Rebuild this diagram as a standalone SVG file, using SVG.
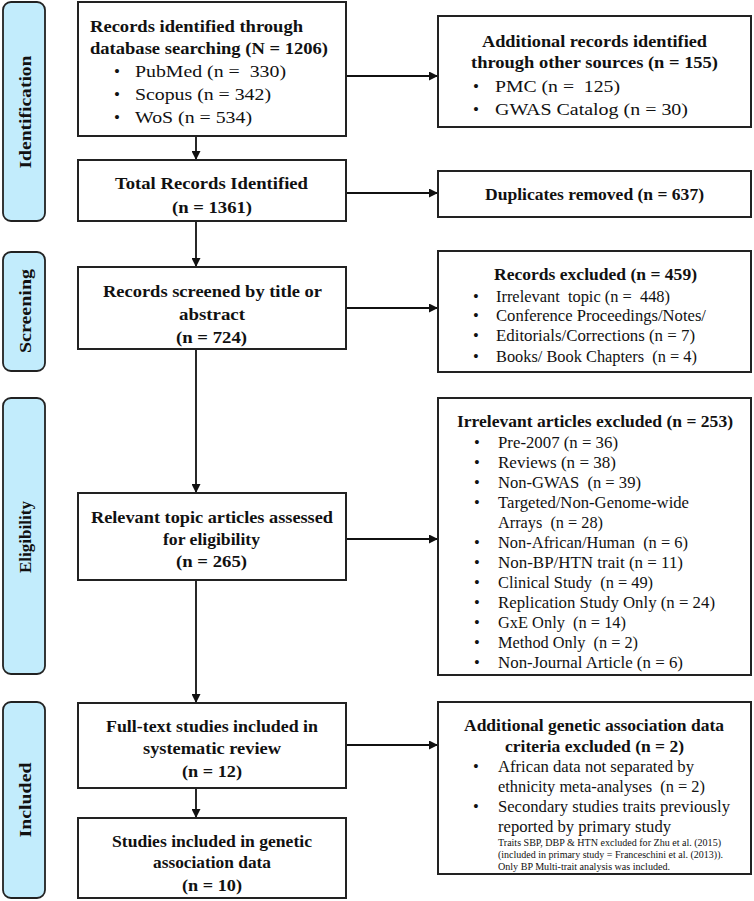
<svg xmlns="http://www.w3.org/2000/svg" width="754" height="901" viewBox="0 0 754 901">
<style>
text{font-family:"Liberation Serif","Times New Roman",serif;fill:#111}
.b{font-weight:bold;font-size:17px}
.r{font-size:17px}
.s{font-size:16.5px}
.box{fill:#fff;stroke:#222;stroke-width:2}
.lab{fill:#C2ECFC;stroke:#222;stroke-width:1.8}
.side{font-weight:bold;font-size:17px;text-anchor:middle;dominant-baseline:central}
.tiny{font-size:10px}
.con line{stroke:#111;stroke-width:1.8;marker-end:url(#ah)}
</style>
<defs>
<marker id="ah" markerUnits="userSpaceOnUse" markerWidth="9" markerHeight="9" refX="9" refY="4.5" orient="auto">
<path d="M0,0 L9,4.5 L0,9 z" fill="#111"/>
</marker>
</defs>
<rect width="754" height="901" fill="#fff"/>
<g id="phases">
<g id="lab-identification"><rect class="lab" x="3" y="2" width="42" height="219" rx="8"/><text class="side" transform="translate(25,112) rotate(-90)" textLength="113" lengthAdjust="spacingAndGlyphs">Identification</text></g>
<g id="lab-screening"><rect class="lab" x="3" y="252" width="42" height="119" rx="8"/><text class="side" transform="translate(25,311) rotate(-90)" textLength="84" lengthAdjust="spacingAndGlyphs">Screening</text></g>
<g id="lab-eligibility"><rect class="lab" x="3" y="398" width="42" height="276" rx="8"/><text class="side" transform="translate(25,537) rotate(-90)" textLength="72" lengthAdjust="spacingAndGlyphs">Eligibility</text></g>
<g id="lab-included"><rect class="lab" x="3" y="702" width="42" height="196" rx="8"/><text class="side" transform="translate(25,800) rotate(-90)" textLength="75" lengthAdjust="spacingAndGlyphs">Included</text></g>
</g>
<g class="con" id="connectors">
<line x1="196" y1="136" x2="196" y2="160"/>
<line x1="196" y1="221" x2="196" y2="267"/>
<line x1="196" y1="349" x2="196" y2="493"/>
<line x1="196" y1="580" x2="196" y2="703"/>
<line x1="196" y1="788" x2="196" y2="818"/>
<line x1="346" y1="76" x2="438" y2="76"/>
<line x1="346" y1="193" x2="438" y2="193"/>
<line x1="346" y1="308" x2="438" y2="308"/>
<line x1="346" y1="539" x2="438" y2="539"/>
<line x1="346" y1="745" x2="438" y2="745"/>
</g>
<g id="n-db">
<rect class="box" x="78" y="2" width="268" height="134"/>
<text class="b" x="90" y="32" textLength="213" lengthAdjust="spacingAndGlyphs">Records identified through</text>
<text class="b" x="90" y="54" textLength="238" lengthAdjust="spacingAndGlyphs">database searching (N = 1206)</text>
<text class="r" x="114" y="77">•</text><text class="r" x="135" y="77" textLength="151" lengthAdjust="spacingAndGlyphs" xml:space="preserve">PubMed (n =  330)</text>
<text class="r" x="114" y="100">•</text><text class="r" x="135" y="100" textLength="136" lengthAdjust="spacingAndGlyphs">Scopus (n = 342)</text>
<text class="r" x="114" y="123">•</text><text class="r" x="135" y="123" textLength="117" lengthAdjust="spacingAndGlyphs">WoS (n = 534)</text>
</g>
<g id="n-other">
<rect class="box" x="438" y="16" width="313" height="111"/>
<text class="b" x="482" y="47" textLength="225" lengthAdjust="spacingAndGlyphs">Additional records identified</text>
<text class="b" x="471" y="68" textLength="247" lengthAdjust="spacingAndGlyphs">through other sources (n = 155)</text>
<text class="r" x="473" y="92">•</text><text class="r" x="495" y="92" textLength="125" lengthAdjust="spacingAndGlyphs" xml:space="preserve">PMC (n =  125)</text>
<text class="r" x="473" y="115">•</text><text class="r" x="495" y="115" textLength="193" lengthAdjust="spacingAndGlyphs">GWAS Catalog (n = 30)</text>
</g>
<g id="n-total">
<rect class="box" x="78" y="160" width="268" height="61"/>
<text class="b" x="115" y="189" textLength="193" lengthAdjust="spacingAndGlyphs">Total Records Identified</text>
<text class="b" x="172" y="213" textLength="80" lengthAdjust="spacingAndGlyphs">(n = 1361)</text>
</g>
<g id="n-dup">
<rect class="box" x="438" y="171" width="313" height="46"/>
<text class="b" x="485" y="200" textLength="219" lengthAdjust="spacingAndGlyphs">Duplicates removed (n = 637)</text>
</g>
<g id="n-screened">
<rect class="box" x="78" y="267" width="268" height="82"/>
<text class="b" x="103" y="297" textLength="219" lengthAdjust="spacingAndGlyphs">Records screened by title or</text>
<text class="b" x="179" y="320" textLength="66" lengthAdjust="spacingAndGlyphs">abstract</text>
<text class="b" x="176" y="343" textLength="71" lengthAdjust="spacingAndGlyphs">(n = 724)</text>
</g>
<g id="n-excluded">
<rect class="box" x="438" y="251" width="313" height="121"/>
<text class="b" x="494" y="280" textLength="203" lengthAdjust="spacingAndGlyphs">Records excluded (n = 459)</text>
<text class="s" x="473" y="302">•</text><text class="s" x="496" y="302" textLength="174" lengthAdjust="spacingAndGlyphs" xml:space="preserve">Irrelevant  topic (n =  448)</text>
<text class="s" x="473" y="321">•</text><text class="s" x="496" y="321" textLength="210" lengthAdjust="spacingAndGlyphs">Conference Proceedings/Notes/</text>
<text class="s" x="473" y="341">•</text><text class="s" x="496" y="341" textLength="199" lengthAdjust="spacingAndGlyphs">Editorials/Corrections (n = 7)</text>
<text class="s" x="473" y="362">•</text><text class="s" x="496" y="362" textLength="201" lengthAdjust="spacingAndGlyphs" xml:space="preserve">Books/ Book Chapters  (n = 4)</text>
</g>
<g id="n-relevant">
<rect class="box" x="78" y="493" width="268" height="87"/>
<text class="b" x="91" y="523" textLength="242" lengthAdjust="spacingAndGlyphs">Relevant topic articles assessed</text>
<text class="b" x="163" y="545" textLength="97" lengthAdjust="spacingAndGlyphs">for eligibility</text>
<text class="b" x="176" y="567" textLength="71" lengthAdjust="spacingAndGlyphs">(n = 265)</text>
</g>
<g id="n-irrelevant">
<rect class="box" x="438" y="398" width="313" height="277"/>
<text class="b" x="457" y="427" textLength="276" lengthAdjust="spacingAndGlyphs">Irrelevant articles excluded (n = 253)</text>
<text class="s" x="474" y="448">•</text><text class="s" x="498" y="448" textLength="120" lengthAdjust="spacingAndGlyphs">Pre-2007 (n = 36)</text>
<text class="s" x="474" y="468">•</text><text class="s" x="498" y="468" textLength="118" lengthAdjust="spacingAndGlyphs">Reviews (n = 38)</text>
<text class="s" x="474" y="488">•</text><text class="s" x="498" y="488" textLength="143" lengthAdjust="spacingAndGlyphs" xml:space="preserve">Non-GWAS  (n = 39)</text>
<text class="s" x="474" y="508">•</text><text class="s" x="498" y="508" textLength="191" lengthAdjust="spacingAndGlyphs">Targeted/Non-Genome-wide</text>
<text class="s" x="498" y="528" textLength="105" lengthAdjust="spacingAndGlyphs" xml:space="preserve">Arrays  (n = 28)</text>
<text class="s" x="474" y="548">•</text><text class="s" x="498" y="548" textLength="190" lengthAdjust="spacingAndGlyphs" xml:space="preserve">Non-African/Human  (n = 6)</text>
<text class="s" x="474" y="568">•</text><text class="s" x="498" y="568" textLength="185" lengthAdjust="spacingAndGlyphs">Non-BP/HTN trait (n = 11)</text>
<text class="s" x="474" y="588">•</text><text class="s" x="498" y="588" textLength="155" lengthAdjust="spacingAndGlyphs" xml:space="preserve">Clinical Study  (n = 49)</text>
<text class="s" x="474" y="608">•</text><text class="s" x="498" y="608" textLength="217" lengthAdjust="spacingAndGlyphs">Replication Study Only (n = 24)</text>
<text class="s" x="474" y="628">•</text><text class="s" x="498" y="628" textLength="128" lengthAdjust="spacingAndGlyphs" xml:space="preserve">GxE Only  (n = 14)</text>
<text class="s" x="474" y="648">•</text><text class="s" x="498" y="648" textLength="140" lengthAdjust="spacingAndGlyphs" xml:space="preserve">Method Only  (n = 2)</text>
<text class="s" x="474" y="668">•</text><text class="s" x="498" y="668" textLength="185" lengthAdjust="spacingAndGlyphs">Non-Journal Article (n = 6)</text>
</g>
<g id="n-fulltext">
<rect class="box" x="78" y="703" width="268" height="85"/>
<text class="b" x="106" y="732" textLength="212" lengthAdjust="spacingAndGlyphs">Full-text studies included in</text>
<text class="b" x="143" y="754" textLength="138" lengthAdjust="spacingAndGlyphs">systematic review</text>
<text class="b" x="182" y="777" textLength="60" lengthAdjust="spacingAndGlyphs">(n = 12)</text>
</g>
<g id="n-additional">
<rect class="box" x="438" y="702" width="313" height="172"/>
<text class="b" x="464" y="731" textLength="260" lengthAdjust="spacingAndGlyphs">Additional genetic association data</text>
<text class="b" x="505" y="752" textLength="179" lengthAdjust="spacingAndGlyphs">criteria excluded (n = 2)</text>
<text class="s" x="473" y="772">•</text><text class="s" x="498" y="772" textLength="196" lengthAdjust="spacingAndGlyphs">African data not separated by</text>
<text class="s" x="498" y="792" textLength="207" lengthAdjust="spacingAndGlyphs" xml:space="preserve">ethnicity meta-analyses  (n = 2)</text>
<text class="s" x="473" y="812">•</text><text class="s" x="498" y="812" textLength="232" lengthAdjust="spacingAndGlyphs">Secondary studies traits previously</text>
<text class="s" x="498" y="832" textLength="173" lengthAdjust="spacingAndGlyphs">reported by primary study</text>
<text class="tiny" x="498" y="846" textLength="223" lengthAdjust="spacingAndGlyphs">Traits SBP, DBP &amp; HTN excluded for Zhu et al. (2015)</text>
<text class="tiny" x="498" y="858" textLength="225" lengthAdjust="spacingAndGlyphs">(included in primary study = Franceschini et al. (2013)).</text>
<text class="tiny" x="498" y="870" textLength="172" lengthAdjust="spacingAndGlyphs">Only BP Multi-trait analysis was included.</text>
</g>
<g id="n-studies">
<rect class="box" x="78" y="818" width="268" height="80"/>
<text class="b" x="112" y="847" textLength="200" lengthAdjust="spacingAndGlyphs">Studies included in genetic</text>
<text class="b" x="153" y="868" textLength="118" lengthAdjust="spacingAndGlyphs">association data</text>
<text class="b" x="182" y="891" textLength="60" lengthAdjust="spacingAndGlyphs">(n = 10)</text>
</g>
</svg>
